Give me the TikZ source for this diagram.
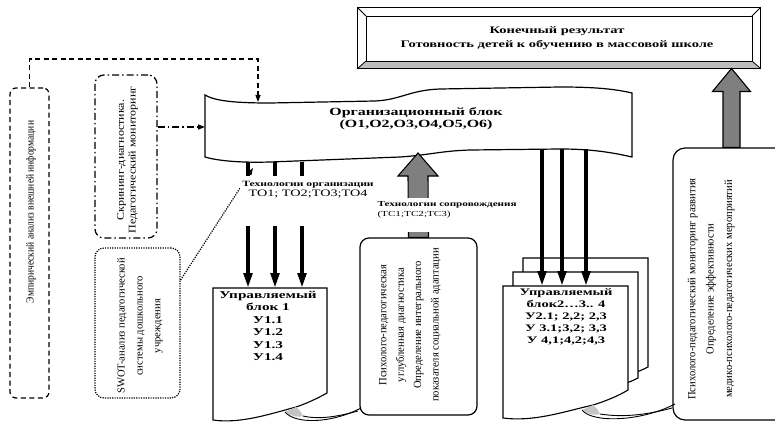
\documentclass[tikz,border=0pt]{standalone}
\usepackage{fontspec}
\setmainfont{Liberation Serif}
\usepackage{graphicx}
\usetikzlibrary{arrows.meta,calc}
\newcommand\stx[4]{\scalebox{#1}[1]{\fontsize{#2}{#3}\selectfont\begin{tabular}{@{}c@{}}#4\end{tabular}}}
\newcommand\stl[4]{\scalebox{#1}[1]{\fontsize{#2}{#3}\selectfont\begin{tabular}{@{}l@{}}#4\end{tabular}}}
\newcommand\rtx[5]{\scalebox{#1}[#2]{\fontsize{#3}{#4}\selectfont\begin{tabular}{@{}c@{}}#5\end{tabular}}}
\definecolor{arrgray}{HTML}{7F7F7F}
\definecolor{curlgray}{HTML}{C4C4C4}
\definecolor{bevel}{HTML}{BDBDBD}
\begin{document}
\begin{tikzpicture}[x=1pt,y=-1pt,line width=1pt,
  frame/.style={draw,line width=1.2pt,rounded corners=9pt,inner sep=0pt},
  dashbox/.style={frame,dash pattern=on 5pt off 3.5pt,rounded corners=6pt},
  dotdashbox/.style={frame,dash pattern=on 7pt off 3pt on 1.5pt off 3pt},
  dotbox/.style={frame,dash pattern=on 1.2pt off 1.2pt},
  txt/.style={inner sep=0pt},
  blk/.style={line width=3.6pt,-{Triangle[length=15pt,width=8.5pt]}},
  tip/.style={-{Triangle[length=7pt,width=5pt]}},
  garrow/.style={fill=arrgray,draw=black,line width=1.1pt,line join=miter},
  page/.style={draw,fill=white,line width=1.1pt}]
\useasboundingbox (0,0) rectangle (775,425);
\clip (0,0) rectangle (775,425);

% ---------- result box ----------
\node[minimum width=402pt,minimum height=60pt,inner sep=0pt] (res) at (559,38) {};
\fill[bevel] (res.south west) -- (366,61) -- (752,61) -- (res.south east) -- cycle;
\draw[line width=1.1pt] (res.north west) rectangle (res.south east);
\draw[line width=0.9pt] (366,16) rectangle (752,61);
\draw[line width=0.8pt] (res.north west) -- (366,16) (res.north east) -- (752,16)
   (res.south west) -- (366,61) (res.south east) -- (752,61);
\node[txt] (restxt) at (557,38) {\bfseries\stx{1.45}{10}{13.5}{Конечный результат\\Готовность детей к обучению в массовой школе}};

% ---------- left boxes ----------
\node[dashbox,minimum width=39pt,minimum height=310pt] (emp) at (29.5,243) {};
\node[txt,rotate=90] (emptxt) at (31,212) {\rtx{1.15}{1.3}{8.3}{10}{Эмпирический анализ внешней информации}};

\node[dotdashbox,minimum width=62pt,minimum height=163pt] (scr) at (126,156.5) {};
\node[txt,rotate=90] (scrtxt) at (127.5,160) {\rtx{1.3}{1.12}{9.2}{10.5}{Скрининг-диагностика.\\Педагогический мониторинг}};

\node[dotbox,minimum width=85pt,minimum height=150pt] (swot) at (137.5,323) {};
\node[txt,rotate=90] (swottxt) at (139,326) {\rtx{1.15}{1.15}{9.2}{15.5}{SWOT-анализ педагогической\\системы дошкольного\\учреждения}};

% ---------- organisational block ----------
\draw[fill=white,line width=1.2pt] (205,95) .. controls (215,101) and (235,103) .. (270,103)
  -- (375,101) .. controls (400,100) and (410,90) .. (440,89)
  -- (560,87) .. controls (595,87) and (615,89) .. (632,93)
  -- (632,157) .. controls (610,152) and (590,149) .. (560,149)
  -- (470,150) .. controls (440,151) and (430,155) .. (400,157)
  -- (270,162) .. controls (235,163) and (215,160) .. (205,157) -- cycle;
\node[txt] (org) at (416,119) {\bfseries\stx{1.45}{11}{12.5}{Организационный блок\\(О1,О2,О3,О4,О5,О6)}};
\coordinate (orgA) at (258,102);
\coordinate (orgL) at (205,127);
\coordinate (orgB) at (253,168);
\coordinate (orgC) at (418,153);
\coordinate (dtop) at (258,59);

% ---------- connectors from the left ----------
\draw[tip,line width=1.3pt,dash pattern=on 5pt off 3.5pt] (emp.north) |- (dtop) -- (orgA);
\draw[tip,line width=1.3pt,dash pattern=on 7pt off 3pt on 1.5pt off 3pt] (scr.east |- orgL) -- (orgL);
\draw[tip,line width=1.2pt,dash pattern=on 1.2pt off 1.2pt] (swot.east |- 0,280) -- (orgB);

% ---------- managed block 1 ----------
\draw[page] (213,288) -- (327,288) -- (327,393) .. controls (318,398) and (308,403) .. (296,407)
  .. controls (270,414) and (240,424) .. (213,420) -- cycle;
\fill[curlgray] (296,407) .. controls (291,409) and (288,411) .. (285,412)
  .. controls (291,416) and (298,418) .. (303,416) .. controls (301,412) and (299,409) .. (296,407);
\draw[line width=0.9pt] (285,412) .. controls (295,424) and (330,424) .. (361,408);
\draw[line width=0.9pt] (303,416) .. controls (320,420) and (340,416) .. (358,411);
\node[txt] (b1) at (268,327) {\bfseries\stx{1.45}{10.5}{12.5}{Управляемый\\блок 1\\У1.1\\У1.2\\У1.3\\У1.4}};
\coordinate (b1top) at (275,288);
\foreach \dx in {-27,0,27} \draw[blk] ($(b1top)+(\dx,-126)$) -- ($(b1top)+(\dx,0)$);

% label over the arrows
\fill[white] (240,176) rectangle (376,226);
\node[txt,anchor=north] (tech1) at (308,179) {\stx{1.45}{8}{10}{\textbf{Технологии организации}\\{\fontsize{9.8}{10}\selectfont ТО1; ТО2;ТО3;ТО4}}};

% ---------- managed blocks 2..4 ----------
\draw[page] (523,258) -- (648,258) -- (648,367) .. controls (640,371) and (632,374) .. (624,377) -- (523,380) -- cycle;
\draw[page] (513,272) -- (638,272) -- (638,378) .. controls (630,382) and (622,385) .. (614,388) -- (513,392) -- cycle;
\draw[page] (503,286) -- (628,286) -- (628,390) .. controls (618,396) and (606,401) .. (593,405)
  .. controls (563,412) and (533,422) .. (503,418) -- cycle;
\fill[curlgray] (593,405) .. controls (588,407) and (585,409) .. (582,410)
  .. controls (588,414) and (595,416) .. (600,414) .. controls (598,410) and (596,407) .. (593,405);
\draw[line width=0.9pt] (582,410) .. controls (592,423) and (640,422) .. (675,404);
\draw[line width=0.9pt] (600,414) .. controls (625,418) and (650,414) .. (672,408);
\node[txt] (b2) at (566,317) {\bfseries\stx{1.45}{10}{12}{Управляемый\\блок2…3.. 4\\У2.1; 2,2; 2,3\\У 3.1;3,2; 3,3\\У 4,1;4,2;4,3}};
\coordinate (b2top) at (564,286);
\foreach \dx in {-22,-2,22} \draw[blk] ($(b2top)+(\dx,-137)$) -- ($(b2top)+(\dx,0)$);

% ---------- diagnostics box and its arrow ----------
\node[frame,minimum width=117pt,minimum height=177pt] (psy) at (418.5,326.5) {};
\node[txt,rotate=90] (psytxt) at (409,325) {\rtx{1.15}{1.2}{9.2}{14.5}{Психолого-педагогическая\\углубленная диагностика\\Определение интегрального\\показателя социальной адаптации}};
\draw[garrow] ($(psy.north)+(-10,0)$) -- ($(orgC)+(-10,23)$) -- ($(orgC)+(-20,23)$) -- (orgC)
  -- ($(orgC)+(20,23)$) -- ($(orgC)+(10,23)$) -- ($(psy.north)+(10,0)$) -- cycle;
\fill[white] (372,198) rectangle (520,232);
\node[txt,anchor=north west] (tech2) at (377,199) {\stl{1.45}{7.7}{10}{\textbf{Технологии сопровождения}\\(ТС1;ТС2;ТС3)}};

% ---------- monitoring box and its arrow ----------
\node[frame,rounded corners=12pt,minimum width=117pt,minimum height=272pt] (mon) at (731.5,284) {};
\node[txt,rotate=90] (montxt) at (710,289) {\rtx{1.1}{1.15}{9.6}{16}{Психолого-педагогический мониторинг развития\\Определение эффективности\\медико-психолого-педагогических мероприятий}};
\coordinate (resB) at (mon.north |- res.south);
\draw[garrow] ($(mon.north)+(-8.5,0)$) -- ($(resB)+(-8.5,23)$) -- ($(resB)+(-19,23)$) -- (resB)
  -- ($(resB)+(19,23)$) -- ($(resB)+(8.5,23)$) -- ($(mon.north)+(8.5,0)$) -- cycle;
\end{tikzpicture}
\end{document}
